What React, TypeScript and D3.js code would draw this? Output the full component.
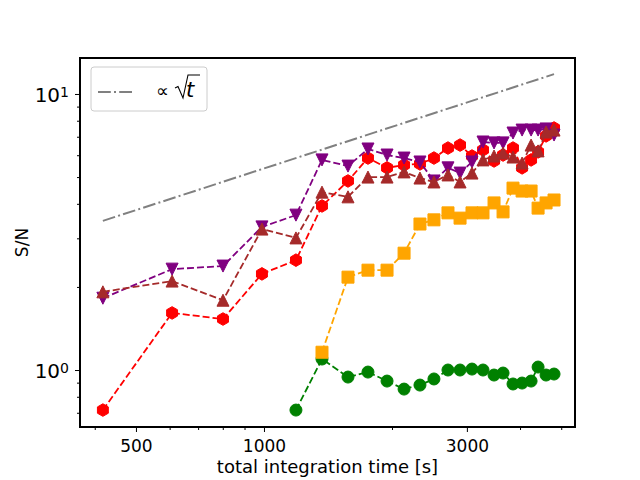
import React, { useEffect, useRef } from 'react';
import * as d3 from 'd3';

// observation times [s] shared by the red / purple / brown series
const times = [418, 608, 801, 989, 1189, 1369, 1576, 1756, 1947, 2135, 2327, 2510,
  2708, 2891, 3084, 3274, 3475, 3649, 3851, 4045, 4247, 4411, 4606, 4809];
const timesGreen = [1189, 1369, 1576, 1756, 1947, 2135, 2327, 2510, 2708, 2891,
  3084, 3274, 3475, 3649, 3851, 4045, 4247, 4411, 4606, 4809];
const timesOrange = [1369, 1576, 1756, 1947, 2135, 2327, 2510, 2708, 2891, 3084,
  3274, 3475, 3649, 3851, 4045, 4247, 4411, 4606, 4809];

const redSN = [0.716, 1.61, 1.53, 2.23, 2.5, 3.93, 4.84, 5.86, 5.4, 5.53, 5.58, 5.86,
  6.37, 6.53, 5.96, 6.27, 5.72, 6.01, 6.37, 5.4, 5.77, 6.17, 7.05, 7.53];
const purpleSN = [1.82, 2.32, 2.38, 3.3, 3.64, 5.77, 5.48, 6.32, 6.01, 5.86, 5.67, 4.84,
  5.4, 5.17, 5.67, 6.7, 6.65, 6.65, 7.22, 7.4, 7.4, 7.4, 7.47, 7.1];
const brownSN = [1.92, 2.1, 1.79, 3.24, 3.01, 4.41, 4.24, 5.0, 5.0, 5.22, 4.96, 4.8,
  5.09, 4.8, 5.17, 5.77, 5.96, 6.11, 5.91, 5.62, 6.53, 6.22, 7.28, 7.4];
const greenSN = [0.716, 1.096, 0.943, 0.983, 0.912, 0.853, 0.882, 0.928, 1.0, 1.0,
  1.008, 1.0, 0.959, 0.975, 0.89, 0.897, 0.912, 1.025, 0.959, 0.967];
const orangeSN = [1.16, 2.17, 2.3, 2.3, 2.65, 3.38, 3.5, 3.71, 3.55, 3.71, 3.71, 4.03,
  3.74, 4.56, 4.45, 4.45, 3.86, 4.03, 4.13];

// proportional-to-sqrt(t) guide line, end points
const refTimes = [418, 4809];
const refSN = [3.47, 11.8];

const xTicks = [500, 1000, 3000];
const xMinor = [400, 600, 700, 800, 900, 2000, 4000, 5000];
const yTicks = [1, 10];
const yMinor = [0.7, 0.8, 0.9, 2, 3, 4, 5, 6, 7, 8, 9];

const FONT = 'DejaVu Sans, sans-serif';
const DASH = '7,3';
const DASHDOT = '12.8,3.2,2,3.2';

const hexPath = (r: number) => {
  const pts = d3.range(6).map(i => {
    const a = -Math.PI / 2 + i * Math.PI / 3;
    return [r * Math.cos(a), r * Math.sin(a)];
  });
  return 'M' + pts.map(p => p.join(',')).join('L') + 'Z';
};
const s = 6;
const markers: Record<string, string> = {
  circle: `M${s},0A${s},${s} 0 1,1 ${-s},0A${s},${s} 0 1,1 ${s},0Z`,
  square: `M${-s},${-s}H${s}V${s}H${-s}Z`,
  triUp: `M0,${-s}L${s},${s}L${-s},${s}Z`,
  triDown: `M0,${s}L${s},${-s}L${-s},${-s}Z`,
  hex: hexPath(s + 0.3),
};

export default function App() {
  const svgRef = useRef<SVGSVGElement>(null);

  useEffect(() => {
    if (!svgRef.current) return;
    const svg = d3.select(svgRef.current);
    svg.selectAll('*').remove();

    const margin = { top: 58, right: 65, bottom: 53, left: 80 };
    const width = 640 - margin.left - margin.right;
    const height = 480 - margin.top - margin.bottom;

    const x = d3.scaleLog().domain([369.3, 5387]).range([0, width]);
    const y = d3.scaleLog().domain([0.6217, 13.5]).range([height, 0]);

    const g = svg.append('g').attr('transform', `translate(${margin.left},${margin.top})`);

    // sqrt guide
    const ref = refTimes.map((t, i) => [t, refSN[i]] as [number, number]);
    const line = d3.line<[number, number]>().x(d => x(d[0])).y(d => y(d[1]));
    g.append('path')
      .datum(ref)
      .attr('fill', 'none')
      .attr('stroke', 'gray')
      .attr('stroke-width', 2)
      .attr('stroke-dasharray', DASHDOT)
      .attr('d', line);

    const series = [
      { t: timesGreen, v: greenSN, color: 'green', marker: 'circle' },
      { t: timesOrange, v: orangeSN, color: 'orange', marker: 'square' },
      { t: times, v: redSN, color: 'red', marker: 'hex' },
      { t: times, v: purpleSN, color: 'purple', marker: 'triDown' },
      { t: times, v: brownSN, color: 'brown', marker: 'triUp' },
    ];

    series.forEach(sr => {
      const pts = sr.t.map((t, i) => [t, sr.v[i]] as [number, number]);
      g.append('path')
        .datum(pts)
        .attr('fill', 'none')
        .attr('stroke', sr.color)
        .attr('stroke-width', 1.8)
        .attr('stroke-dasharray', DASH)
        .attr('d', line);
      g.append('g')
        .selectAll('path')
        .data(pts)
        .join('path')
        .attr('transform', d => `translate(${x(d[0])},${y(d[1])})`)
        .attr('d', markers[sr.marker])
        .attr('fill', sr.color)
        .attr('stroke', sr.color)
        .attr('stroke-width', 1);
    });

    // x axis
    const xAxis = g.append('g').attr('transform', `translate(0,${height})`);
    xAxis.call(d3.axisBottom(x).tickValues(xTicks).tickFormat(d3.format('d')).tickSize(5).tickPadding(8));
    xAxis.append('g').call(d3.axisBottom(x).tickValues(xMinor).tickFormat(() => '').tickSize(3));
    xAxis.selectAll('.domain').remove();
    xAxis.selectAll('text').attr('font-family', FONT).attr('font-size', 17).attr('fill', 'black');

    // y axis
    const yAxis = g.append('g');
    yAxis.call(d3.axisLeft(y).tickValues(yTicks).tickFormat(() => '').tickSize(5));
    yAxis.append('g').call(d3.axisLeft(y).tickValues(yMinor).tickFormat(() => '').tickSize(3));
    yAxis.selectAll('.domain').remove();
    yTicks.forEach(v => {
      const txt = yAxis.append('text')
        .attr('x', -11)
        .attr('y', y(v) + 8)
        .attr('text-anchor', 'end')
        .attr('font-family', FONT)
        .attr('font-size', 20)
        .attr('fill', 'black');
      txt.append('tspan').text('10');
      txt.append('tspan')
        .attr('font-size', 14)
        .attr('dy', -5)
        .text(String(Math.round(Math.log10(v))));
    });

    // frame
    g.append('rect')
      .attr('width', width)
      .attr('height', height)
      .attr('fill', 'none')
      .attr('stroke', 'black')
      .attr('stroke-width', 2);

    // labels
    svg.append('text')
      .attr('x', margin.left + width / 2)
      .attr('y', 473)
      .attr('text-anchor', 'middle')
      .attr('font-family', FONT)
      .attr('font-size', 18)
      .text('total integration time [s]');
    svg.append('text')
      .attr('transform', `translate(28,${margin.top + height / 2}) rotate(-90)`)
      .attr('text-anchor', 'middle')
      .attr('font-family', FONT)
      .attr('font-size', 17)
      .text('S/N');

    // legend
    const lg = svg.append('g');
    lg.append('rect')
      .attr('x', 91).attr('y', 67).attr('width', 116).attr('height', 44)
      .attr('rx', 3)
      .attr('fill', 'white').attr('fill-opacity', 0.8)
      .attr('stroke', '#cccccc').attr('stroke-width', 1);
    lg.append('line')
      .attr('x1', 98).attr('x2', 133).attr('y1', 92).attr('y2', 92)
      .attr('stroke', 'gray').attr('stroke-width', 2)
      .attr('stroke-dasharray', DASHDOT);
    lg.append('text')
      .attr('x', 156).attr('y', 97)
      .attr('font-family', FONT).attr('font-size', 18)
      .text('∝');
    lg.append('path')
      .attr('d', 'M175,88L178,86.5L183,98L188,75H200')
      .attr('fill', 'none').attr('stroke', 'black').attr('stroke-width', 1.1);
    lg.append('text')
      .attr('x', 186).attr('y', 97)
      .attr('font-family', FONT).attr('font-style', 'italic').attr('font-size', 21)
      .text('t');
  }, []);

  return (
    <svg
      ref={svgRef}
      width={640}
      height={480}
      style={{ position: 'absolute', left: 0, top: 0, background: 'white' }}
    />
  );
}
